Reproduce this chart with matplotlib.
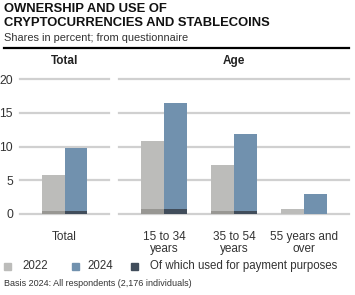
import matplotlib
matplotlib.use("Agg")
import matplotlib.pyplot as plt
from matplotlib.patches import Rectangle
from matplotlib.lines import Line2D

plt.rcParams['font.family'] = ['Liberation Sans', 'DejaVu Sans']

total_label = ["Total"]
age_labels = ["15 to 34\nyears", "35 to 54\nyears", "55 years and\nover"]
total_2022 = [5.8]
total_2024 = [9.8]
total_pay_2022 = [0.4]
total_pay_2024 = [0.4]
age_2022 = [10.8, 7.3, 0.8]
age_2024 = [16.4, 11.9, 3.0]
age_pay_2022 = [0.8, 0.4, 0.0]
age_pay_2024 = [0.8, 0.4, 0.0]
yticks = [0, 5, 10, 15, 20]

c2022 = "#bcbcba"
c2024 = "#7191ae"
cpay22 = "#989793"
cpay24 = "#414d5b"
grid_c = "#d0d0d0"
txt_c = "#333333"

W, H = 355, 295
fig = plt.figure(figsize=(W / 100, H / 100), dpi=100)

y0, y20 = 214, 79
bottom = 1 - y0 / H
height = (y0 - y20) / H
axL = fig.add_axes([20 / W, bottom, 89 / W, height])
axR = fig.add_axes([119 / W, bottom, 230 / W, height])

bw = 0.33

def draw(ax, labels, v22, v24, p22, p24, show_y):
    x = list(range(len(labels)))
    ax.set_xlim(-0.643, len(labels) - 1 + 0.643)
    ax.set_ylim(0, 20)
    for yt in yticks:
        ax.axhline(yt, color=grid_c, lw=1.6, zorder=0, clip_on=False)
    xl = [i - bw / 2 for i in x]
    xr = [i + bw / 2 for i in x]
    ax.bar(xl, v22, width=bw, color=c2022, zorder=2)
    ax.bar(xr, v24, width=bw, color=c2024, zorder=2)
    ax.bar(xl, p22, width=bw, color=cpay22, zorder=3)
    ax.bar(xr, p24, width=bw, color=cpay24, zorder=3)
    ax.set_xticks(x)
    ax.set_xticklabels(labels, fontsize=8.5, color=txt_c, linespacing=1.0)
    ax.tick_params(axis='x', length=0, pad=12)
    ax.set_yticks(yticks)
    if show_y:
        ax.set_yticklabels([str(t) for t in yticks], fontsize=8.7, color=txt_c)
        ax.tick_params(axis='y', length=0, pad=5)
    else:
        ax.tick_params(axis='y', length=0, labelleft=False)
    for s in ax.spines.values():
        s.set_visible(False)

draw(axL, total_label, total_2022, total_2024, total_pay_2022, total_pay_2024, True)
draw(axR, age_labels, age_2022, age_2024, age_pay_2022, age_pay_2024, False)

fig.text(4 / W, 1 - 3.5 / H, "OWNERSHIP AND USE OF\nCRYPTOCURRENCIES AND STABLECOINS",
         fontsize=9.4, fontweight='bold', color='#111111', va='top', ha='left', linespacing=1.12)
fig.text(4 / W, 1 - 38 / H, "Shares in percent; from questionnaire",
         fontsize=7.9, color=txt_c, va='center', ha='left')
fig.add_artist(Line2D([4 / W, 349 / W], [1 - 48 / H, 1 - 48 / H], color='black', lw=1.6))
fig.text(65 / W, 1 - 61 / H, "Total", fontsize=8.5, fontweight='bold', color='#222222', ha='center', va='center')
fig.text(234 / W, 1 - 61 / H, "Age", fontsize=8.5, fontweight='bold', color='#222222', ha='center', va='center')

# legend
ly = 1 - 266 / H
items = [(4, c2022, "2022", 22), (72, c2024, "2024", 87), (131, cpay24, "Of which used for payment purposes", 150)]
for sx, col, lab, tx in items:
    fig.add_artist(Rectangle((sx / W, ly - 3.5 / H), 7 / W, 7 / H, color=col, transform=fig.transFigure))
    fig.text(tx / W, ly, lab, fontsize=8.3, color=txt_c, va='center', ha='left')

fig.text(4 / W, 1 - 284 / H, "Basis 2024: All respondents (2,176 individuals)",
         fontsize=6.5, color=txt_c, va='center', ha='left')

fig.savefig("out.png", dpi=100)
